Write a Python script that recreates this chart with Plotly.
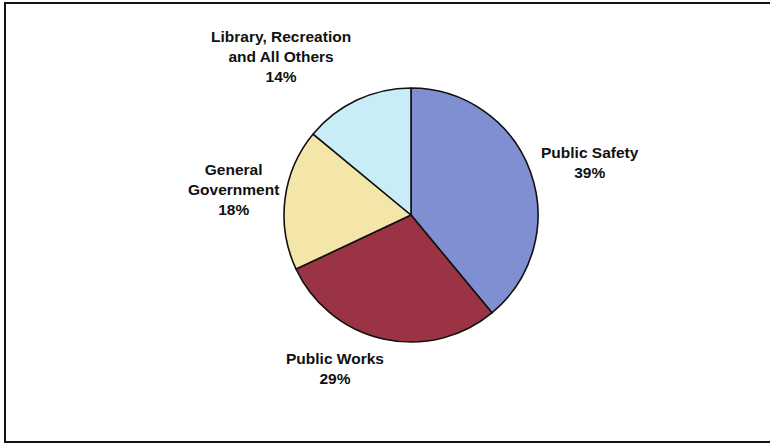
import plotly.graph_objects as go

W, H = 770, 444

# Expenditure shares by function
categories = ["Public Safety", "Public Works", "General Government", "Library, Recreation and All Others"]
values = [39, 29, 18, 14]
label_lines = [
    ["Public Safety"],
    ["Public Works"],
    ["General", "Government"],
    ["Library, Recreation", "and All Others"],
]
colors = ["#7f8fd2", "#9a3343", "#f4e5a8", "#c8edf7"]

# pixel geometry of the pie
cx, cy, r = 411, 215, 127

fig = go.Figure(go.Pie(
    labels=categories,
    values=values,
    sort=False,
    direction="clockwise",
    rotation=0,
    textinfo="none",
    hoverinfo="label+percent",
    marker=dict(colors=colors, line=dict(color="#111111", width=1.6)),
    domain=dict(x=[(cx - r) / W, (cx + r) / W],
                y=[(H - cy - r) / H, (H - cy + r) / H]),
    showlegend=False,
))

# label block centers (pixels)
label_pos = [(590, 162), (335, 368), (233, 189), (281, 56)]
total = sum(values)
for lines, v, (lx, ly) in zip(label_lines, values, label_pos):
    pct = round(100 * v / total)
    text = "<br>".join(f"<b>{s}</b>" for s in lines + [f"{pct}%"])
    fig.add_annotation(
        x=lx / W, y=1 - ly / H, xref="paper", yref="paper",
        text=text, showarrow=False, align="center",
        xanchor="center", yanchor="middle",
        font=dict(family="Liberation Sans, Arial, sans-serif", size=15.5, color="#111111"),
    )

# outer frame (open on the right side)
fig.add_shape(type="path", xref="paper", yref="paper",
              path=f"M 1.1 {1 - 3 / H} L {5 / W} {1 - 3 / H} L {5 / W} {2 / H} L 1.1 {2 / H}",
              line=dict(color="#111111", width=2))

fig.update_layout(
    width=W, height=H,
    margin=dict(l=0, r=0, t=0, b=0),
    paper_bgcolor="white",
    plot_bgcolor="white",
    font=dict(family="Liberation Sans, Arial, sans-serif"),
)

fig.write_html("out.html")
